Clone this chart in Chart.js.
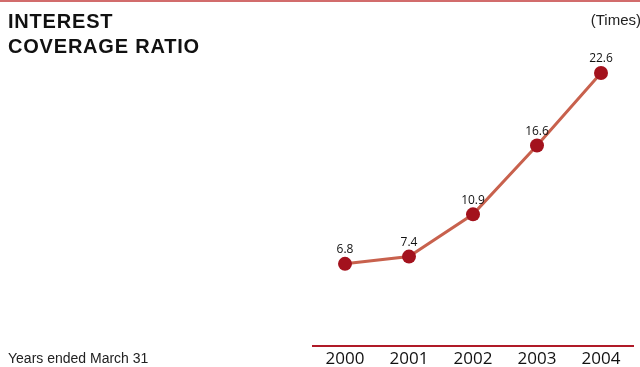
<!DOCTYPE html>
<html lang="en">
<head>
<meta charset="UTF-8">
<title>Interest Coverage Ratio</title>
<script src="https://cdn.jsdelivr.net/npm/chart.js"></script>
<style>
    html, body { margin: 0; padding: 0; background: #fff; }
    .janela { position: relative; width: 640px; height: 367px; overflow: hidden; }
    .linha-topo { position: absolute; left: 0; top: 0; width: 640px; height: 2px; background: #d26c6c; }
    .titulo {
        position: absolute; left: 8px; top: 9px; margin: 0;
        font: bold 20px/25px "Liberation Sans", Arial, sans-serif;
        letter-spacing: 0.8px; color: #111;
    }
    .unidade {
        position: absolute; right: -1px; top: 11px;
        font: 15px "Liberation Sans", Arial, sans-serif; color: #222;
    }
    .rodape {
        position: absolute; left: 8px; top: 350px;
        font: 14px "Liberation Sans", Arial, sans-serif; color: #222;
    }
    #grafico { position: absolute; left: 0; top: 0; }
</style>
</head>
<body>
<div class="janela">
    <canvas id="grafico" width="640" height="375"></canvas>
    <div class="linha-topo"></div>
    <h1 class="titulo">INTEREST<br>COVERAGE RATIO</h1>
    <div class="unidade">(Times)</div>
    <div class="rodape">Years ended March 31</div>
</div>

<script>
    // anos e valores (vezes)
    const anos = ['2000', '2001', '2002', '2003', '2004'];
    const cobertura = [6.8, 7.4, 10.9, 16.6, 22.6];

    // escreve o valor em cima de cada ponto
    const rotulosValores = {
        id: 'rotulosValores',
        afterDatasetsDraw(chart) {
            const ctx = chart.ctx;
            const meta = chart.getDatasetMeta(0);
            ctx.save();
            ctx.font = '12px "Open Sans", sans-serif';
            ctx.fillStyle = '#111';
            ctx.textAlign = 'center';
            ctx.textBaseline = 'middle';
            meta.data.forEach((ponto, i) => {
                ctx.fillText(cobertura[i].toFixed(1), ponto.x, ponto.y - 14);
            });
            ctx.restore();
        }
    };

    const config = {
        type: 'line',
        data: {
            labels: anos,
            datasets: [{
                label: 'Interest coverage ratio',
                data: cobertura,
                borderColor: '#c8614d',
                borderWidth: 3,
                pointRadius: 7,
                pointHoverRadius: 7,
                pointBackgroundColor: '#a3121d',
                pointBorderColor: '#a3121d',
                pointBorderWidth: 0,
                tension: 0,
                clip: false
            }]
        },
        options: {
            responsive: false,
            animation: false,
            layout: { padding: { left: 313, right: 6, top: 44, bottom: 2 } },
            plugins: {
                legend: { display: false },
                tooltip: { enabled: false }
            },
            scales: {
                x: {
                    offset: true,
                    grid: { display: false, drawTicks: false },
                    border: { display: true, color: '#b01a28', width: 2 },
                    ticks: {
                        color: '#111',
                        padding: 5,
                        font: { family: '"Open Sans", sans-serif', size: 17, lineHeight: 1 }
                    }
                },
                y: {
                    display: false,
                    min: 0,
                    max: 25
                }
            }
        },
        plugins: [rotulosValores]
    };

    new Chart(document.getElementById('grafico'), config);
</script>
</body>
</html>
